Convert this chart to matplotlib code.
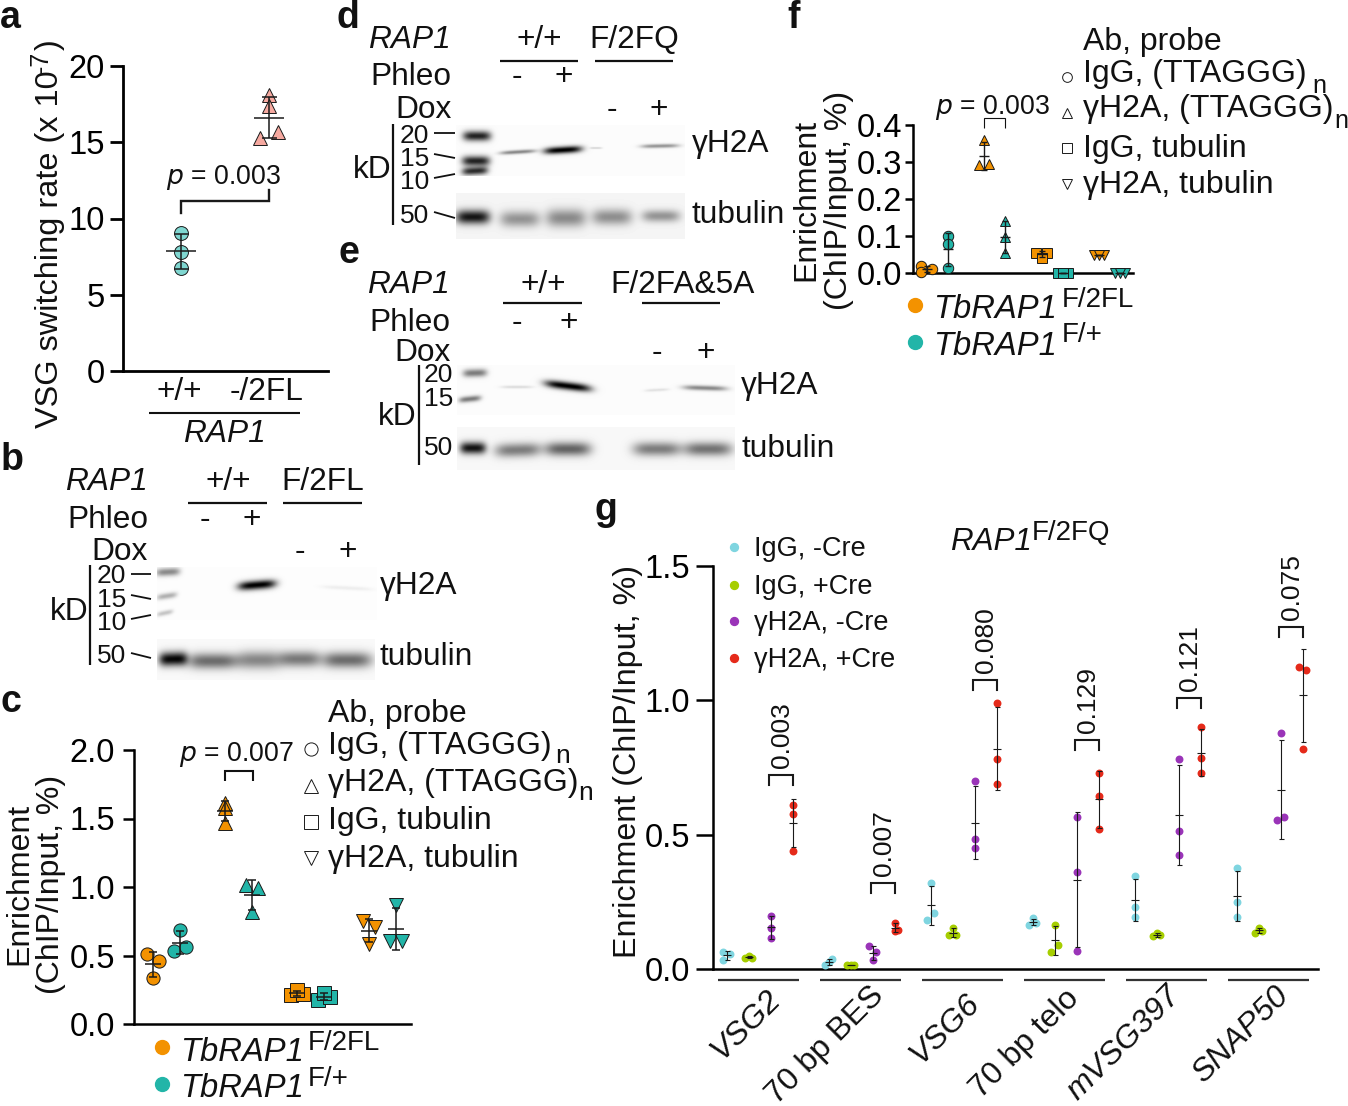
import numpy as np
import matplotlib
matplotlib.use('Agg')
import matplotlib.pyplot as plt

plt.rcParams['font.family'] = ['Liberation Sans', 'DejaVu Sans']

W, H = 1348, 1106
DARK = '#1a1a1a'
ORANGE = '#F39200'
TEAL = '#22B5A8'

# panel a
a_wt = [9.04, 7.8, 6.74]
a_mut = [18.1, 17.4, 15.7, 15.25]
a_wt_spread = [0, 0, 0]
a_mut_spread = [0, 0, 1, -1]

# panel c, one list per column, orange/teal alternate
c_values = [[0.511, 0.458, 0.337], [0.688, 0.53, 0.564],
            [1.61, 1.58, 1.47], [1.015, 0.99, 0.82],
            [0.21, 0.218, 0.245], [0.172, 0.199, 0.228],
            [0.753, 0.705, 0.586], [0.869, 0.603, 0.603]]
c_spread = [[-1, 1, 0], [0, -1, 1], [0, 0, 0], [-1, 1, 0],
            [-1, 1, 0], [-1, 1, 0], [-1, 1, 0], [0, -1, 1]]

# panel f
f_values = [[0.02, 0.002, 0.011], [0.10, 0.079, 0.014],
            [0.359, 0.293, 0.295], [0.141, 0.098, 0.055],
            [0.055, 0.055, 0.041], [0.0, 0.0, 0.0],
            [0.05, 0.05, 0.05], [0.0, 0.0, 0.0]]
f_spread = [[-1, -1, 1], [0, 0, 0], [0, -1, 1], [0, 0, 0],
            [-1, 1, 0], [-1, 1, 0], [-1, 1, 0], [-1, 1, 0]]

col_markers = ['o', 'o', '^', '^', 's', 's', 'v', 'v']

# panel g
g_probes = ['VSG2', '70 bp BES', 'VSG6', '70 bp telo', 'mVSG397', 'SNAP50']
g_styles = ['italic', 'normal', 'italic', 'normal', 'italic', 'italic']
g_series = ['IgG, -Cre', 'IgG, +Cre', 'γH2A, -Cre', 'γH2A, +Cre']
g_colors = ['#7FD5E0', '#A6CE00', '#9A34B8', '#E52A1A']
g_igg_minus = [[0.065, 0.057, 0.033], [0.014, 0.036, 0.026], [0.32, 0.21, 0.182],
               [0.188, 0.165, 0.172], [0.344, 0.232, 0.194], [0.374, 0.249, 0.192]]
g_igg_plus = [[0.04, 0.047, 0.042], [0.016, 0.016, 0.016], [0.154, 0.125, 0.128],
              [0.165, 0.09, 0.063], [0.121, 0.134, 0.125], [0.134, 0.154, 0.143]]
g_h2a_minus = [[0.197, 0.151, 0.115], [0.085, 0.065, 0.033], [0.70, 0.482, 0.45],
               [0.567, 0.36, 0.068], [0.78, 0.513, 0.423], [0.879, 0.553, 0.567]]
g_h2a_plus = [[0.61, 0.577, 0.44], [0.172, 0.142, 0.146], [0.99, 0.78, 0.689],
              [0.729, 0.645, 0.519], [0.899, 0.785, 0.729], [1.123, 1.112, 0.817]]
g_spread = [[[-1, 1, -1], [-1, 1, 0], [0, 1, -1], [0, -1, 1], [0, 0, 0], [0, 0, 0]],
            [[-1, 0, 1], [-1, 0, 1], [0, -1, 1], [0, 1, -1], [-1, 0, 1], [-1, 0, 1]],
            [[0, 0, 0], [-1, 1, 0], [0, 0, 0], [0, 0, 0], [0, 0, 0], [0, -1, 1]],
            [[0, 0, 0], [0, 0, 1], [0, 0, 0], [0, 0, 0], [0, 0, 0], [-1, 1, 0]]]
g_pvalues = ['0.003', '0.007', '0.080', '0.129', '0.121', '0.075']
g_bracket_top = [0.722, 0.319, 1.076, 0.851, 1.008, 1.273]


def panel(l, r, t, b, ylim, x0, unit, yticks, fmt, ticklen, pad, lw=1.8):
    ax = fig.add_axes([l / W, 1 - b / H, (r - l) / W, (b - t) / H])
    ax.set_xlim((l - x0) / unit, (r - x0) / unit)
    ax.set_ylim(*ylim)
    ax.set_yticks(yticks)
    ax.set_yticklabels([fmt % v for v in yticks], fontsize=23.5)
    ax.set_xticks([])
    ax.tick_params(axis='y', length=ticklen * 0.72, width=lw, pad=pad * 0.72)
    ax.spines['top'].set_visible(False)
    ax.spines['right'].set_visible(False)
    ax.spines['left'].set_linewidth(lw)
    ax.spines['bottom'].set_linewidth(lw)
    ax.patch.set_alpha(0)
    return ax


def points(ax, x, vals, spread, step, marker, color, size, edge=DARK, mew=0.7,
           cap=3.0, mean_w=11.0, elw=1.1):
    vals = np.array(vals)
    xs = x + np.array(spread) * step
    ax.plot(xs, vals, ls='', marker=marker, ms=size, mfc=color, mec=edge, mew=mew,
            clip_on=False, zorder=3)
    m, sd = vals.mean(), vals.std(ddof=1)
    ax.errorbar(x, m, yerr=sd, color=DARK, elinewidth=elw, capsize=cap, capthick=elw,
                clip_on=False, zorder=4)
    ax.plot([x], [m], marker='_', ms=mean_w, mew=elw, color=DARK, clip_on=False, zorder=4)


def t(x, y, s, size=22.8, ha='left', **kw):
    ov.text(x, y, s, fontsize=size, ha=ha, va=kw.pop('va', 'baseline'), color='#111111', **kw)


def line(xs, ys, lw=1.6, color='#111111'):
    ov.plot(xs, ys, color=color, lw=lw, solid_capstyle='butt', solid_joinstyle='miter')


def blot(x0, x1, y0, y1, bg, bands):
    xx, yy = np.meshgrid(np.arange(x0, x1) + 0.5, np.arange(y0, y1) + 0.5)
    img = np.full(xx.shape, float(bg))
    for cx, cy, w, h, d, tilt in bands:
        dy = yy - cy - tilt * (xx - cx)
        img -= d * np.exp(-(np.abs(xx - cx) / w) ** 4 - (dy / h) ** 2)
    ov.imshow(np.clip(img, 0, 1), cmap='gray', vmin=0, vmax=1, extent=(x0, x1, y1, y0),
              aspect='auto', interpolation='bilinear')


fig = plt.figure(figsize=(W / 100, H / 100), dpi=100)
ov = fig.add_axes([0, 0, 1, 1], zorder=10)
ov.patch.set_alpha(0)
ov.axis('off')

# ---- panel a
ax = panel(123, 328, 66, 371, (0, 20), 181, 88, [0, 5, 10, 15, 20], '%d', 13, 5, lw=2.0)
points(ax, 0, a_wt, a_wt_spread, 0, 'o', '#7FD6D0', 10, cap=5.4, mean_w=21)
points(ax, 1, a_mut, a_mut_spread, 0.1, '^', '#F6A9A0', 10, cap=5.4, mean_w=21)
ax.plot([0, 0, 1, 1], [10.35, 11.14, 11.14, 11.86], color=DARK, lw=1.7,
        solid_joinstyle='miter')
t(166, 184, '$p$ = 0.003', 19.2)
t(179, 400, '+/+', 22.8, ha='center')
t(267, 400, '-/2FL', 22.8, ha='center')
line([149, 300], [412.7, 412.7], 1.5)
t(224, 441.7, 'RAP1', 22.8, ha='center', style='italic')
t(58, 428, 'VSG switching rate (x 10', 23.4, rotation=90, rotation_mode='anchor')
t(48, 73, '-7', 18, rotation=90, rotation_mode='anchor')
t(58, 50, ')', 23.4, rotation=90, rotation_mode='anchor')

# ---- panel c
c_x = [0, 1, 8 / 3, 11 / 3, 16 / 3, 19 / 3, 8, 9]
ax = panel(134, 411, 750, 1024, (0, 2), 153, 27, [0, 0.5, 1, 1.5, 2], '%.1f', 11, 8)
for i in range(8):
    col = ORANGE if i % 2 == 0 else TEAL
    points(ax, c_x[i], c_values[i], c_spread[i], 0.22, col_markers[i], col, 9.5,
           cap=3.2, mean_w=11)
t(18 + 9, 884, 'Enrichment', 23, ha='center', rotation=90, rotation_mode='anchor')
t(50 + 9, 884, '(ChIP/Input, %)', 23, ha='center', rotation=90, rotation_mode='anchor')
t(179, 761, '$p$ = 0.007', 19.2)
line([225, 225, 253, 253], [781, 771, 771, 781], 1.5)
t(328, 722, 'Ab, probe', 23)
t(328, 754, 'IgG, (TTAGGG)', 23)
t(555, 763, 'n', 19)
t(328, 790.7, 'γH2A, (TTAGGG)', 23)
t(578, 800, 'n', 19)
t(328, 829, 'IgG, tubulin', 23)
t(328, 867, 'γH2A, tubulin', 23)
for y, m in zip([749, 786, 822, 858], ['o', '^', 's', 'v']):
    ov.plot([311], [y], ls='', marker=m, ms=9.5, mfc='white', mec=DARK, mew=0.7)
ov.plot([162], [1047], 'o', ms=10, color=ORANGE)
ov.plot([162], [1084], 'o', ms=10, color=TEAL)
t(180, 1061, 'TbRAP1', 23.6, style='italic')
t(308, 1050, 'F/2FL', 20)
t(180, 1097, 'TbRAP1', 23.6, style='italic')
t(308, 1086, 'F/+', 20)

# ---- panel f
f_x = [0, 1, 2.7, 3.7, 5.4, 6.4, 8.1, 9.1]
ax = panel(913, 1133, 125, 273, (0, 0.4), 926.5, 21.3, [0, 0.1, 0.2, 0.3, 0.4], '%.1f', 8, 3, lw=1.8)
for i in range(8):
    col = ORANGE if i % 2 == 0 else TEAL
    points(ax, f_x[i], f_values[i], f_spread[i], 0.24, col_markers[i], col, 7.5,
           cap=2.4, mean_w=7, elw=1.0)
t(805 + 9, 200, 'Enrichment', 23, ha='center', rotation=90, rotation_mode='anchor')
t(838 + 9, 200, '(ChIP/Input, %)', 23, ha='center', rotation=90, rotation_mode='anchor')
t(935, 114, '$p$ = 0.003', 19.2)
line([984, 984, 1005, 1005], [128, 118, 118, 128], 0.8)
t(1083, 50, 'Ab, probe', 23)
t(1083, 82, 'IgG, (TTAGGG)', 23)
t(1312, 93, 'n', 18)
t(1083, 117, 'γH2A, (TTAGGG)', 23)
t(1334, 128, 'n', 18)
t(1083, 157, 'IgG, tubulin', 23)
t(1083, 193, 'γH2A, tubulin', 23)
for y, m in zip([77, 113, 148, 184], ['o', '^', 's', 'v']):
    ov.plot([1067], [y], ls='', marker=m, ms=7, mfc='white', mec=DARK, mew=0.7)
ov.plot([915], [305], 'o', ms=10, color=ORANGE)
ov.plot([915], [342], 'o', ms=10, color=TEAL)
t(933, 318, 'TbRAP1', 23.6, style='italic')
t(1062, 307, 'F/2FL', 20)
t(933, 355, 'TbRAP1', 23.6, style='italic')
t(1062, 342, 'F/+', 20)

# ---- panel g
group_step = 102 / 22
ax = panel(713, 1318, 565.6, 969, (0, 1.5), 726.5, 22, [0, 0.5, 1, 1.5], '%.1f', 17, 6)
g_all = [g_igg_minus, g_igg_plus, g_h2a_minus, g_h2a_plus]
for s, series in enumerate(g_all):
    for p, vals in enumerate(series):
        points(ax, p * group_step + s, vals, g_spread[s][p], 0.18, 'o', g_colors[s], 5.7,
               edge='none', mew=0, cap=1.8, mean_w=6, elw=0.8)
for p, top in enumerate(g_bracket_top):
    xa, xb = p * group_step + 2 - 0.05, p * group_step + 3
    ax.plot([xa, xa, xb, xb], [top - 0.038, top, top, top - 0.038], color=DARK, lw=1.5,
            solid_joinstyle='miter')
    ax.text((xa + xb) / 2 + 0.05, top + 0.025, g_pvalues[p], fontsize=19, rotation=90,
            ha='center', va='bottom', color='#111111')
    px = 726.5 + 22 * p * group_step
    line([px - 8.5, px + 72.5], [980, 980], 1.6, '#333333')
t(627 + 9, 761, 'Enrichment (ChIP/Input, %)', 23.2, ha='center', rotation=90, rotation_mode='anchor')
t(950, 550, 'RAP1', 22.6, style='italic')
t(1032, 540, 'F/2FQ', 20)
for y, label, col in zip([547, 584.5, 621, 658], g_series, g_colors):
    ov.plot([734], [y], 'o', ms=5.7, color=col)
    t(754, y + 9, label, 19.5)
g_label_end = [(776, 995), (879, 991), (975, 999), (1075, 994), (1176, 991), (1284, 992)]
for (x, y), name, st in zip(g_label_end, g_probes, g_styles):
    t(x, y, name, 23, ha='right', va='center', rotation=45, rotation_mode='anchor', style=st)

# ---- blots
blot(157, 377, 567, 620, 0.99, [(168, 572, 12, 4, 0.45, -0.05), (167, 596, 10, 3, 0.3, -0.15),
                                (165, 613, 8, 2.5, 0.22, -0.2), (257, 585, 19, 4.5, 1, -0.08),
                                (347, 588, 25, 2, 0.06, 0.05)])
blot(157, 375, 639, 680, 0.975, [(173, 659, 14, 7, 0.95, -0.03), (213, 661, 26, 8, 0.55, 0),
                                 (260, 660, 22, 9, 0.45, 0), (300, 659, 20, 8, 0.5, 0),
                                 (347, 660, 25, 8, 0.55, 0)])
blot(456, 685, 125, 176, 0.985, [(477, 136, 14, 5, 0.85, 0), (476, 161, 14, 5, 0.85, 0),
                                 (475, 171, 13, 4, 0.8, -0.05), (518, 152, 18, 2, 0.45, -0.06),
                                 (563, 150, 19, 3.5, 1, -0.06), (596, 148, 6, 1, 0.15, 0),
                                 (660, 146, 19, 2, 0.4, -0.02)])
blot(456, 685, 193, 239, 0.96, [(473, 217, 17, 7, 0.88, 0), (520, 219, 20, 8, 0.38, 0),
                                (566, 218, 20, 9, 0.42, 0), (612, 217, 20, 8, 0.4, 0),
                                (661, 216, 19, 6, 0.38, 0)])
blot(457, 735, 365, 415, 0.985, [(475, 373, 12, 4, 0.5, -0.03), (470, 399, 11, 3, 0.5, -0.1),
                                 (568, 386, 23, 4, 1, 0.12), (517, 387, 16, 1.5, 0.12, 0),
                                 (657, 390, 12, 1.5, 0.1, -0.05), (705, 388, 22, 2.5, 0.45, 0.03)])
blot(457, 735, 427, 470, 0.97, [(473, 448, 13, 6, 0.9, 0), (518, 450, 23, 7, 0.48, -0.03),
                                (568, 449, 23, 7, 0.58, 0), (657, 449, 24, 7, 0.48, 0),
                                (708, 449, 24, 7, 0.52, 0)])

# blot b labels
t(148, 490, 'RAP1', ha='right', style='italic')
t(148, 528, 'Phleo', ha='right')
t(148, 560, 'Dox', ha='right')
t(228, 490, '+/+', ha='center')
t(323, 490, 'F/2FL', ha='center')
line([188, 267], [503, 503])
line([283, 362], [503, 503])
t(205, 528, '-', ha='center')
t(252, 528, '+', ha='center')
t(300, 560, '-', ha='center')
t(348, 560, '+', ha='center')
t(50, 620, 'kD')
line([90, 90], [565, 665])
for y, s in zip([583, 607, 630, 663], ['20', '15', '10', '50']):
    t(126, y, s, 19, ha='right')
for y1, y2 in zip([574, 595, 619, 653], [574, 599, 615, 658]):
    line([131, 151], [y1, y2], 1.3)
t(380, 594, 'γH2A')
t(380, 665, 'tubulin')

# blot d labels
t(451, 48, 'RAP1', ha='right', style='italic')
t(451, 85, 'Phleo', ha='right')
t(452, 118, 'Dox', ha='right')
t(539, 48, '+/+', ha='center')
t(634, 48, 'F/2FQ', ha='center')
line([500, 578], [61, 61])
line([595, 673], [61, 61])
t(517, 85, '-', ha='center')
t(564, 85, '+', ha='center')
t(612, 118, '-', ha='center')
t(659, 118, '+', ha='center')
t(353, 178, 'kD')
line([393, 393], [124, 225])
for y, s in zip([143, 166, 189, 223], ['20', '15', '10', '50']):
    t(429, y, s, 19, ha='right')
for y1, y2 in zip([133, 154, 178, 212], [133, 158, 174, 218]):
    line([434, 455], [y1, y2], 1.3)
t(692, 152, 'γH2A')
t(692, 223, 'tubulin')

# blot e labels
t(450, 293, 'RAP1', ha='right', style='italic')
t(450, 331, 'Phleo', ha='right')
t(451, 361, 'Dox', ha='right')
t(543, 293, '+/+', ha='center')
t(683, 293, 'F/2FA&5A', ha='center')
line([503, 582], [303, 303])
line([642, 720], [303, 303])
t(517, 331, '-', ha='center')
t(569, 331, '+', ha='center')
t(657, 361, '-', ha='center')
t(706, 361, '+', ha='center')
t(378, 425, 'kD')
line([419, 419], [365, 465])
for y, s in zip([382, 406, 455], ['20', '15', '50']):
    t(453, y, s, 19, ha='right')
t(741, 394, 'γH2A')
t(741, 457, 'tubulin')

# panel letters
for x, y, s in [(0, 28, 'a'), (1, 470, 'b'), (0, 712, 'c'), (337, 28, 'd'), (338, 263, 'e'),
                (787, 28, 'f'), (595, 520, 'g')]:
    t(x, y, s, 27, weight='bold')

ov.set_xlim(0, W)
ov.set_ylim(H, 0)
fig.savefig('out.png', dpi=100)
